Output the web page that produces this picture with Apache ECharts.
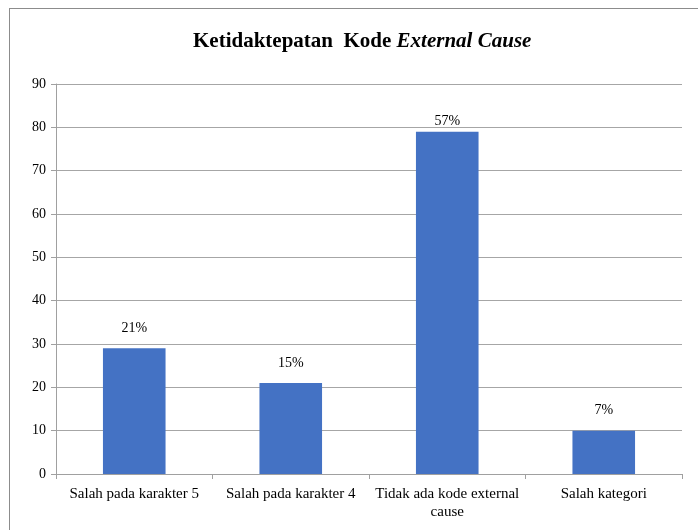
<!DOCTYPE html>
<html>
<head>
<meta charset="utf-8">
<script src="https://cdn.jsdelivr.net/npm/echarts@6/dist/echarts.min.js"></script>
<style>
  html, body { margin: 0; padding: 0; background: #fff; }
  #frame { position: absolute; left: 9px; top: 8px; width: 700px; height: 540px; border: 1px solid #8c8c8c; box-sizing: border-box; }
  #chart { position: absolute; left: 0; top: 0; width: 698px; height: 530px; }
</style>
</head>
<body>
<div id="frame"></div>
<div id="chart"></div>
<script>
var categories = ['Salah pada karakter 5', 'Salah pada karakter 4', 'Tidak ada kode external\ncause', 'Salah kategori'];
var values = [29, 21, 79, 10];
var percentLabels = ['21%', '15%', '57%', '7%'];
var labelGap = [13, 13, 3, 13];

var chart = echarts.init(document.getElementById('chart'), null, { renderer: 'canvas' });
var serif = 'Liberation Serif';

chart.setOption({
  animation: false,
  title: {
    text: '{b|Ketidaktepatan  Kode }{i|External Cause}',
    left: 188,
    top: 26,
    textStyle: {
      rich: {
        b: { fontFamily: serif, fontSize: 21, fontWeight: 'bold', color: '#000' },
        i: { fontFamily: serif, fontSize: 21, fontWeight: 'bold', fontStyle: 'italic', color: '#000' }
      }
    }
  },
  grid: { left: 56, right: 16, top: 84, bottom: 56 },
  xAxis: {
    type: 'category',
    data: categories,
    axisLine: { lineStyle: { color: '#a0a0a0' } },
    axisTick: { show: true, length: 5, lineStyle: { color: '#a0a0a0' } },
    axisLabel: { fontFamily: serif, fontSize: 15, color: '#000', margin: 11, lineHeight: 18, interval: 0 }
  },
  yAxis: {
    type: 'value',
    min: 0,
    max: 90,
    interval: 10,
    axisLine: { show: true, lineStyle: { color: '#a0a0a0' } },
    axisTick: { show: true, length: 5, lineStyle: { color: '#a0a0a0' } },
    axisLabel: { fontFamily: serif, fontSize: 14, color: '#000', margin: 10 },
    splitLine: { lineStyle: { color: '#a6a6a6', width: 1 } }
  },
  series: [{
    type: 'bar',
    barWidth: '40%',
    itemStyle: { color: '#4472c4' },
    data: values.map(function (v, i) {
      return {
        value: v,
        label: { show: true, position: 'top', distance: labelGap[i], formatter: percentLabels[i] }
      };
    }),
    label: { fontFamily: serif, fontSize: 14, color: '#000' }
  }]
});
window.addEventListener('resize', function () { chart.resize(); });
</script>
</body>
</html>
